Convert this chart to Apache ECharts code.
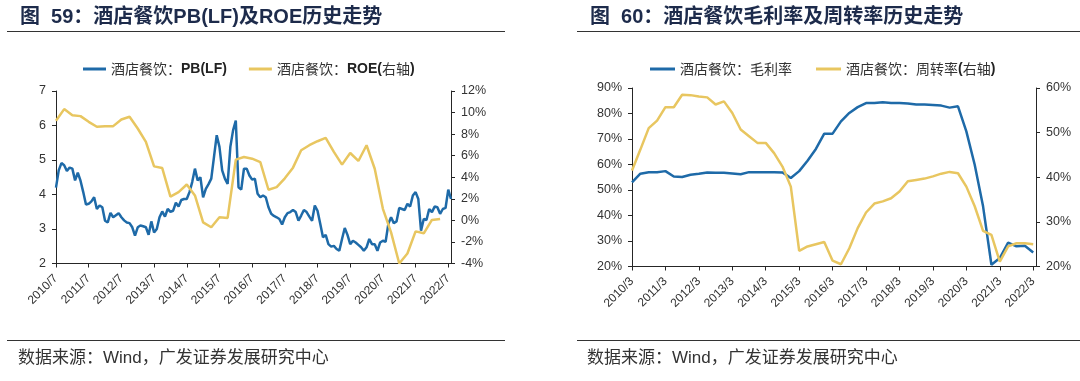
<!DOCTYPE html>
<html>
<head>
<meta charset="utf-8">
<script src="https://cdn.jsdelivr.net/npm/echarts@6/dist/echarts.min.js"></script>
<style>
html,body{margin:0;padding:0;background:#fff;}
#c{width:1080px;height:381px;}
</style>
</head>
<body>
<div id="c"></div>
<script>
// ---------- Chart 59 data ----------
const title1 = '图  59：酒店餐饮PB(LF)及ROE历史走势';
const pbName = '酒店餐饮：PB(LF)';
const roeName = '酒店餐饮：ROE(右轴)';
// monthly PB(LF), 2010/7 .. 2022/8
const pbValues = [
  4.2, 4.7, 4.91, 4.85, 4.68, 4.78, 4.75, 4.41, 4.63, 4.4, 4.07, 3.71,
  3.73, 3.8, 3.92, 3.58, 3.68, 3.63, 3.24, 3.19, 3.47, 3.34, 3.4, 3.46,
  3.34, 3.25, 3.19, 3.17, 3.05, 2.81, 3.05, 3.1, 3.08, 3.05, 2.83, 3.22,
  2.9, 3.0, 3.34, 3.51, 3.36, 3.58, 3.5, 3.53, 3.76, 3.65, 3.84, 3.87,
  3.87, 4.07, 4.36, 4.75, 4.41, 4.5, 3.92, 4.16, 4.3, 4.46, 5.09, 5.72,
  5.38, 4.7, 4.46, 4.31, 5.38, 5.86, 6.14, 4.21, 4.14, 4.75, 4.75, 4.55,
  4.43, 4.46, 4.02, 3.92, 3.97, 3.92, 3.63, 3.44, 3.38, 3.34, 3.29, 3.13,
  3.34, 3.46, 3.49, 3.55, 3.49, 3.24, 3.39, 3.55, 3.49, 3.36, 3.24, 3.68,
  3.53, 3.15, 2.76, 2.83, 2.56, 2.49, 2.51, 2.42, 2.37, 2.71, 3.03, 2.83,
  2.56, 2.66, 2.61, 2.54, 2.47, 2.37, 2.47, 2.71, 2.56, 2.56, 2.37, 2.61,
  2.66, 2.63, 3.15, 3.34, 3.17, 3.22, 3.61, 3.58, 3.55, 3.73, 3.65, 3.97,
  4.07, 3.87, 2.95, 3.29, 3.26, 3.58, 3.49, 3.65, 3.63, 3.44, 3.58, 3.61,
  4.14, 3.87
];
// quarterly ROE (%), every 3rd month from 2010/7
const roeValues = [
  9.24, 10.32, 9.76, 9.67, 9.14, 8.68, 8.74, 8.74, 9.36, 9.61, 8.52, 7.28,
  5.01, 4.85, 2.21, 2.62, 3.33, 2.31, -0.18, -0.64, 0.29, 0.23, 5.63, 5.88,
  5.72, 5.41, 2.84, 3.08, 3.9, 4.89, 6.5, 6.97, 7.34, 7.65, 6.35, 5.17,
  6.25, 5.51, 6.97, 4.79, 1.07, -1.11, -4.0, -3.07, -1.02, -1.2, 0.04, 0.13
];

// ---------- Chart 60 data ----------
const title2 = '图  60：酒店餐饮毛利率及周转率历史走势';
const gmName = '酒店餐饮：毛利率';
const toName = '酒店餐饮：周转率(右轴)';
// quarterly, 2010/3 .. 2022/3
const grossMargin = [
  53.0, 56.4, 57.0, 57.0, 57.4, 55.3, 55.1, 56.0, 56.4, 56.9,
  56.8, 56.8, 56.5, 56.2, 57.0, 57.0, 57.0, 57.0, 56.9, 54.7,
  57.4, 61.5, 66.1, 72.1, 72.1, 76.9, 80.2, 82.5, 84.1, 84.1,
  84.4, 84.1, 84.1, 83.9, 83.5, 83.5, 83.3, 83.1, 82.3, 82.8,
  73.0, 59.9, 43.6, 20.7, 23.3, 29.4, 27.9, 28.1, 25.5
];
const turnover = [
  41.5, 46.2, 51.0, 52.7, 55.7, 55.7, 58.5, 58.4, 58.1, 57.9,
  56.3, 57.0, 54.4, 50.7, 49.2, 47.7, 47.7, 45.4, 42.4, 37.9,
  23.5, 24.5, 25.0, 25.5, 21.3, 20.5, 24.1, 28.6, 32.1, 34.1,
  34.6, 35.3, 36.8, 39.1, 39.4, 39.7, 40.2, 40.8, 41.2, 40.9,
  37.9, 33.5, 28.0, 27.1, 21.1, 24.5, 25.2, 25.2, 25.0
];
const sourceText = '数据来源：Wind，广发证券发展研究中心';

// ---------- category labels ----------
function monthLabels(y, m, count) {
  const out = [];
  for (let i = 0; i < count; i++) {
    out.push(y + '/' + m);
    m++; if (m > 12) { m = 1; y++; }
  }
  return out;
}
const months1 = monthLabels(2010, 7, 146); // 2010/7 .. 2022/8
const months2 = monthLabels(2010, 3, 146); // 2010/3 .. 2022/4
const roeX = months1.filter((_, i) => i % 3 === 0).slice(0, roeValues.length);
const qX = months2.filter((_, i) => i % 3 === 0).slice(0, grossMargin.length);

const BLUE = '#1e6aa8';
const YELLOW = '#e8c660';
const AX = '#262626';
const LAT = "'Liberation Sans', Arial, 'Noto Sans CJK SC'";
const CJK = "'Noto Sans CJK SC', 'Liberation Sans'";

function richName(name) {
  return name.match(/[\x00-\x7f]+|[^\x00-\x7f]+/g)
    .map(s => /[\x00-\x7f]/.test(s[0]) ? '{b|' + s + '}' : '{c|' + s + '}').join('');
}

function xAx(gi, data) {
  return {
    type: 'category', gridIndex: gi, data: data, boundaryGap: false,
    axisLine: { show: true, onZero: false, lineStyle: { color: AX, width: 1 } },
    axisTick: { show: true, interval: 11, length: 4, lineStyle: { color: AX } },
    axisLabel: { interval: 11, rotate: 45, fontSize: 12, color: '#333', margin: 13, fontFamily: LAT },
    splitLine: { show: false }
  };
}
function yAx(gi, pos, min, max, itv, fmt) {
  return {
    type: 'value', gridIndex: gi, position: pos, min: min, max: max, interval: itv,
    axisLine: { show: true, lineStyle: { color: AX, width: 1 } },
    axisTick: { show: true, length: 4, lineStyle: { color: AX } },
    axisLabel: { fontSize: 12.5, color: '#333', margin: 10, fontFamily: LAT, formatter: fmt },
    splitLine: { show: false }
  };
}
function lineSeries(name, xi, yi, data, color) {
  return {
    name: name, type: 'line', xAxisIndex: xi, yAxisIndex: yi, data: data,
    symbol: 'none', showSymbol: false, smooth: false,
    lineStyle: { color: color, width: 2.5 }, itemStyle: { color: color }
  };
}
const legendText = {
  fontSize: 14, color: '#222', fontFamily: CJK,
  rich: {
    c: { fontSize: 14, color: '#333', fontFamily: CJK },
    b: { fontSize: 14, color: '#222', fontWeight: 'bold', fontFamily: LAT }
  }
};

const chart = echarts.init(document.getElementById('c'), null, { renderer: 'canvas' });
chart.setOption({
  animation: false,
  backgroundColor: '#fff',
  title: [
    { text: title1, left: 15, top: 2, textStyle: { fontSize: 20, fontWeight: 'bold', color: '#1d2b4b', fontFamily: LAT } },
    { text: title2, left: 585, top: 2, textStyle: { fontSize: 20, fontWeight: 'bold', color: '#1d2b4b', fontFamily: LAT } },
    { text: sourceText, left: 13, top: 345, textStyle: { fontSize: 17, fontWeight: 'normal', color: '#333', fontFamily: LAT } },
    { text: sourceText, left: 582, top: 345, textStyle: { fontSize: 17, fontWeight: 'normal', color: '#333', fontFamily: LAT } }
  ],
  graphic: [
    { type: 'line', shape: { x1: 7, y1: 31.5, x2: 505, y2: 31.5 }, style: { stroke: '#333', lineWidth: 1.2 } },
    { type: 'line', shape: { x1: 577, y1: 31.5, x2: 1080, y2: 31.5 }, style: { stroke: '#333', lineWidth: 1.2 } },
    { type: 'line', shape: { x1: 7, y1: 340.5, x2: 505, y2: 340.5 }, style: { stroke: '#333', lineWidth: 1.2 } },
    { type: 'line', shape: { x1: 577, y1: 340.5, x2: 1080, y2: 340.5 }, style: { stroke: '#333', lineWidth: 1.2 } }
  ],
  legend: [
    { data: [pbName, roeName], left: 78, top: 57, icon: 'rect', itemWidth: 23, itemHeight: 3, itemGap: 22,
      textStyle: legendText, formatter: richName },
    { data: [gmName, toName], left: 645, top: 57, icon: 'rect', itemWidth: 25, itemHeight: 3, itemGap: 24,
      textStyle: legendText, formatter: richName }
  ],
  grid: [
    { left: 56, top: 91, width: 395, height: 172.5, outerBoundsMode: 'none', containLabel: false },
    { left: 632, top: 88, width: 404, height: 178.5, outerBoundsMode: 'none', containLabel: false }
  ],
  xAxis: [xAx(0, months1), xAx(1, months2)],
  yAxis: [
    yAx(0, 'left', 2, 7, 1, '{value}'),
    yAx(0, 'right', -4, 12, 2, '{value}%'),
    yAx(1, 'left', 20, 90, 10, '{value}%'),
    yAx(1, 'right', 20, 60, 10, '{value}%')
  ],
  series: [
    lineSeries(pbName, 0, 0, pbValues, BLUE),
    lineSeries(roeName, 0, 1, roeX.map((x, i) => [x, roeValues[i]]), YELLOW),
    lineSeries(gmName, 1, 2, qX.map((x, i) => [x, grossMargin[i]]), BLUE),
    lineSeries(toName, 1, 3, qX.map((x, i) => [x, turnover[i]]), YELLOW)
  ]
});
</script>
</body>
</html>
